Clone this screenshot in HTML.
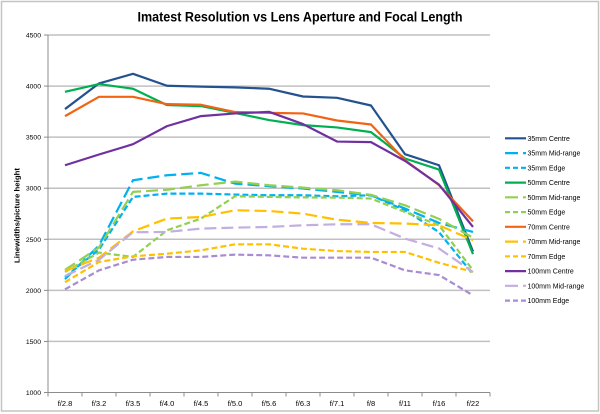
<!DOCTYPE html>
<html>
<head>
<meta charset="utf-8">
<style>
  html,body{margin:0;padding:0;background:#fff;}
  svg{display:block;}
  text{font-family:"Liberation Sans", sans-serif; fill:#000;}
</style>
</head>
<body>
<svg width="600" height="414" viewBox="0 0 600 414" xmlns="http://www.w3.org/2000/svg">
  <rect x="0" y="0" width="600" height="414" fill="#fff"/>
  <rect x="1.5" y="1.5" width="597" height="409.5" fill="none" stroke="#c4c4c4" stroke-width="1.5"/>

  <!-- Title -->
  <text x="300" y="21.5" text-anchor="middle" font-size="13.5" font-weight="bold" textLength="325" lengthAdjust="spacingAndGlyphs">Imatest Resolution vs Lens Aperture and Focal Length</text>

  <!-- Gridlines -->
  <g stroke="#c0c0c0" stroke-width="1.5">
    <line x1="48" y1="35" x2="490" y2="35"/>
    <line x1="48" y1="86.07" x2="490" y2="86.07"/>
    <line x1="48" y1="137.14" x2="490" y2="137.14"/>
    <line x1="48" y1="188.21" x2="490" y2="188.21"/>
    <line x1="48" y1="239.29" x2="490" y2="239.29"/>
    <line x1="48" y1="290.36" x2="490" y2="290.36"/>
    <line x1="48" y1="341.43" x2="490" y2="341.43"/>
  </g>

  <!-- Axes -->
  <g stroke="#8c8c8c" stroke-width="1">
    <line x1="48" y1="35" x2="48" y2="392.5"/>
    <line x1="48" y1="392.5" x2="490" y2="392.5"/>
    <!-- y ticks -->
    <line x1="44" y1="35" x2="48" y2="35"/>
    <line x1="44" y1="86.07" x2="48" y2="86.07"/>
    <line x1="44" y1="137.14" x2="48" y2="137.14"/>
    <line x1="44" y1="188.21" x2="48" y2="188.21"/>
    <line x1="44" y1="239.29" x2="48" y2="239.29"/>
    <line x1="44" y1="290.36" x2="48" y2="290.36"/>
    <line x1="44" y1="341.43" x2="48" y2="341.43"/>
    <line x1="44" y1="392.5" x2="48" y2="392.5"/>
    <!-- x ticks -->
    <line x1="48" y1="392.5" x2="48" y2="396.5"/>
    <line x1="82" y1="392.5" x2="82" y2="396.5"/>
    <line x1="116" y1="392.5" x2="116" y2="396.5"/>
    <line x1="150" y1="392.5" x2="150" y2="396.5"/>
    <line x1="184" y1="392.5" x2="184" y2="396.5"/>
    <line x1="218" y1="392.5" x2="218" y2="396.5"/>
    <line x1="252" y1="392.5" x2="252" y2="396.5"/>
    <line x1="286" y1="392.5" x2="286" y2="396.5"/>
    <line x1="320" y1="392.5" x2="320" y2="396.5"/>
    <line x1="354" y1="392.5" x2="354" y2="396.5"/>
    <line x1="388" y1="392.5" x2="388" y2="396.5"/>
    <line x1="422" y1="392.5" x2="422" y2="396.5"/>
    <line x1="456" y1="392.5" x2="456" y2="396.5"/>
    <line x1="490" y1="392.5" x2="490" y2="396.5"/>
  </g>

  <!-- Y labels -->
  <g font-size="6.8" text-anchor="end">
    <text x="41" y="37.5">4500</text>
    <text x="41" y="88.5">4000</text>
    <text x="41" y="139.6">3500</text>
    <text x="41" y="190.7">3000</text>
    <text x="41" y="241.8">2500</text>
    <text x="41" y="292.9">2000</text>
    <text x="41" y="343.9">1500</text>
    <text x="41" y="395">1000</text>
  </g>

  <!-- Y axis title -->
  <text transform="translate(19.5,215.5) rotate(-90)" text-anchor="middle" font-size="7" font-weight="bold" textLength="95" lengthAdjust="spacingAndGlyphs">Linewidths/picture height</text>

  <!-- X labels -->
  <g font-size="7.5" text-anchor="middle">
    <text x="65" y="406">f/2.8</text>
    <text x="99" y="406">f/3.2</text>
    <text x="133" y="406">f/3.5</text>
    <text x="167" y="406">f/4.0</text>
    <text x="201" y="406">f/4.5</text>
    <text x="235" y="406">f/5.0</text>
    <text x="269" y="406">f/5.6</text>
    <text x="303" y="406">f/6.3</text>
    <text x="337" y="406">f/7.1</text>
    <text x="371" y="406">f/8</text>
    <text x="405" y="406">f/11</text>
    <text x="439" y="406">f/16</text>
    <text x="473" y="406">f/22</text>
  </g>

  <!-- Series -->
  <g fill="none" stroke-width="2.2" stroke-linejoin="round">
    <!-- 35mm Centre -->
    <polyline stroke="#23528f" points="65,109.06 99,83.42 133,73.82 167,85.77 201,86.59 235,87.41 269,88.74 303,96.5 337,97.83 371,105.49 405,154.21 439,165.24 473,251.55"/>
    <!-- 35mm Mid-range -->
    <polyline stroke="#00b0f0" stroke-dasharray="12,5" points="65,279.12 99,245.42 133,180.25 167,175.25 201,172.9 235,183.62 269,186.18 303,188.53 337,191.9 371,195.27 405,208.55 439,222.95 473,231.94"/>
    <!-- 35mm Edge -->
    <polyline stroke="#00b0f0" stroke-dasharray="6,3" points="65,277.08 99,249.5 133,196.9 167,193.63 201,193.63 235,194.55 269,195.27 303,195.27 337,196.29 371,195.27 405,210.28 439,232.14 473,274.32"/>
    <!-- 50mm Centre -->
    <polyline stroke="#00b050" points="65,91.8 99,84.04 133,88.74 167,105.08 201,106.1 235,112.94 269,120.09 303,125.1 337,127.45 371,132.15 405,158.5 439,169.53 473,254.1"/>
    <!-- 50mm Mid-range -->
    <polyline stroke="#92d050" stroke-dasharray="12,5" points="65,269.93 99,247.46 133,191.9 167,189.75 201,185.26 235,181.58 269,185.26 303,187.61 337,190.26 371,194.86 405,205.28 439,218.86 473,237.66"/>
    <!-- 50mm Edge -->
    <polyline stroke="#92d050" stroke-dasharray="6,3" points="65,271.97 99,252.57 133,256.96 167,230.3 201,218.56 235,196.29 269,196.9 303,197.41 337,197.62 371,198.54 405,212.02 439,225.3 473,270.34"/>
    <!-- 70mm Centre -->
    <polyline stroke="#f26414" points="65,116.11 99,96.8 133,96.8 167,104.16 201,104.77 235,112.02 269,112.84 303,113.45 337,120.5 371,124.48 405,160.13 439,185.16 473,221.31"/>
    <!-- 70mm Mid-range -->
    <polyline stroke="#ffc000" stroke-dasharray="12,5" points="65,270.95 99,257.68 133,231.32 167,218.56 201,217.02 235,210.28 269,211 303,213.65 337,219.68 371,222.95 405,223.56 439,225.3 473,240.31"/>
    <!-- 70mm Edge -->
    <polyline stroke="#ffc000" stroke-dasharray="6,3" points="65,282.19 99,261.97 133,256.35 167,253.69 201,250.32 235,244.29 269,244.29 303,248.69 337,251.04 371,251.96 405,251.96 439,262.78 473,271.97"/>
    <!-- 100mm Centre -->
    <polyline stroke="#7030a0" points="65,165.24 99,154.51 133,144.2 167,126.12 201,116.11 235,113.45 269,111.82 303,124.08 337,141.54 371,142.15 405,160.85 439,184.65 473,226.93"/>
    <!-- 100mm Mid-range -->
    <polyline stroke="#c2aee0" stroke-dasharray="12,5" points="65,276.06 99,259.72 133,232.24 167,231.94 201,228.57 235,227.65 269,226.93 303,225.3 337,224.28 371,224.28 405,238.58 439,248.48 473,271.97"/>
    <!-- 100mm Edge -->
    <polyline stroke="#a98bd3" stroke-dasharray="6,3" points="65,289.34 99,270.34 133,259.72 167,256.96 201,256.96 235,254.61 269,255.33 303,257.68 337,257.68 371,257.68 405,270.34 439,275.04 473,295.36"/>
  </g>

  <!-- Legend -->
  <g fill="none" stroke-width="2.2">
    <line x1="505" y1="138.3" x2="526" y2="138.3" stroke="#23528f"/>
    <line x1="505" y1="153.1" x2="526" y2="153.1" stroke="#00b0f0" stroke-dasharray="13,5"/>
    <line x1="505" y1="167.8" x2="526" y2="167.8" stroke="#00b0f0" stroke-dasharray="5,3"/>
    <line x1="505" y1="182.6" x2="526" y2="182.6" stroke="#00b050"/>
    <line x1="505" y1="197.3" x2="526" y2="197.3" stroke="#92d050" stroke-dasharray="13,5"/>
    <line x1="505" y1="212.1" x2="526" y2="212.1" stroke="#92d050" stroke-dasharray="5,3"/>
    <line x1="505" y1="226.8" x2="526" y2="226.8" stroke="#f26414"/>
    <line x1="505" y1="241.6" x2="526" y2="241.6" stroke="#ffc000" stroke-dasharray="13,5"/>
    <line x1="505" y1="256.3" x2="526" y2="256.3" stroke="#ffc000" stroke-dasharray="5,3"/>
    <line x1="505" y1="271.1" x2="526" y2="271.1" stroke="#7030a0"/>
    <line x1="505" y1="285.8" x2="526" y2="285.8" stroke="#c2aee0" stroke-dasharray="13,5"/>
    <line x1="505" y1="300.6" x2="526" y2="300.6" stroke="#a98bd3" stroke-dasharray="5,3"/>
  </g>
  <g font-size="7">
    <text x="527.5" y="140.8">35mm Centre</text>
    <text x="527.5" y="155.6">35mm Mid-range</text>
    <text x="527.5" y="170.3">35mm Edge</text>
    <text x="527.5" y="185.1">50mm Centre</text>
    <text x="527.5" y="199.8">50mm Mid-range</text>
    <text x="527.5" y="214.6">50mm Edge</text>
    <text x="527.5" y="229.3">70mm Centre</text>
    <text x="527.5" y="244.1">70mm Mid-range</text>
    <text x="527.5" y="258.8">70mm Edge</text>
    <text x="527.5" y="273.6">100mm Centre</text>
    <text x="527.5" y="288.3">100mm Mid-range</text>
    <text x="527.5" y="303.1">100mm Edge</text>
  </g>
</svg>
</body>
</html>
